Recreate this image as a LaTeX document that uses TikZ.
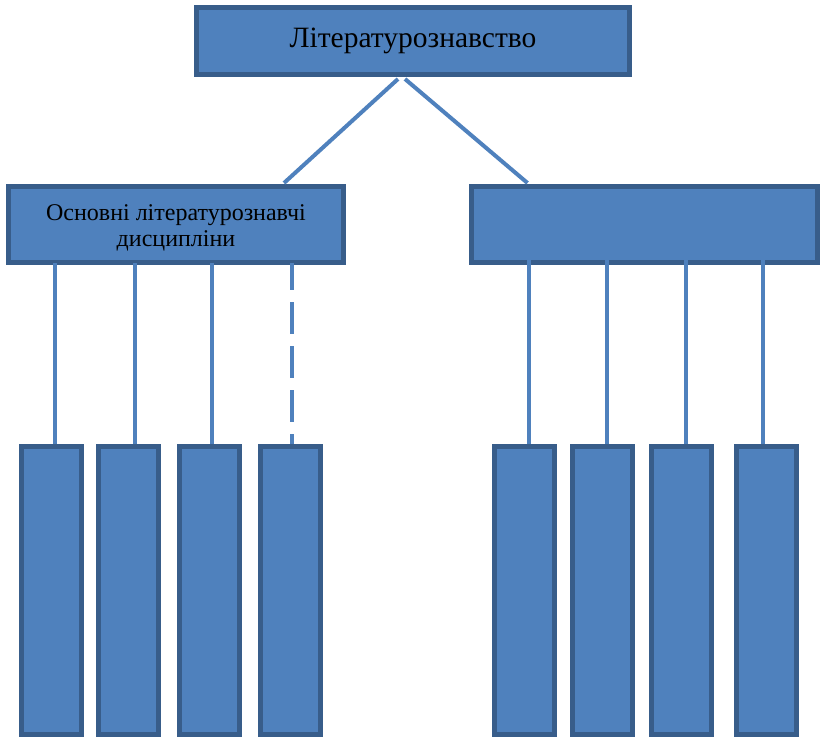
\documentclass[tikz,border=0pt]{standalone}
\usepackage{fontspec}
\setmainfont{Liberation Serif}
\usetikzlibrary{calc}

\definecolor{boxfill}{HTML}{4F81BD}
\definecolor{boxline}{HTML}{385D8A}

\begin{document}
\begin{tikzpicture}[x=1pt,y=-1pt,
  box/.style={draw=boxline,fill=boxfill,line width=5pt,inner sep=0pt,align=center},
  link/.style={draw=boxfill,line width=4pt}]

\def \ColW {60pt};
\def \ColH {288pt};

\useasboundingbox (0,0) rectangle (824,737);

\node [box,minimum width=433pt,minimum height=67pt,font=\fontsize{29.5}{32}\selectfont] (lit) at (413,41) {Літературознавство};

\node [box,minimum width=335pt,minimum height=76pt,font=\fontsize{24}{26}\selectfont] (osn) at (176,224.5) {};
\node [align=center,inner sep=0pt,font=\fontsize{24}{26}\selectfont] (osnt) at (176,228) {Основні літературознавчі\\дисципліни};
\node [box,minimum width=346pt,minimum height=76pt] (dop) at (644.5,224.5) {};

\node [box,minimum width=\ColW,minimum height=\ColH] (a1) at (51,590.5) {};
\node [box,minimum width=\ColW,minimum height=\ColH] (a2) at (128,590.5) {};
\node [box,minimum width=\ColW,minimum height=\ColH] (a3) at (209,590.5) {};
\node [box,minimum width=\ColW,minimum height=\ColH] (a4) at (290,590.5) {};

\node [box,minimum width=\ColW,minimum height=\ColH] (b1) at (524.5,590.5) {};
\node [box,minimum width=\ColW,minimum height=\ColH] (b2) at (602,590.5) {};
\node [box,minimum width=\ColW,minimum height=\ColH] (b3) at (681.5,590.5) {};
\node [box,minimum width=\ColW,minimum height=\ColH] (b4) at (766,590.5) {};

\draw [link] ($(lit.south)+(-15,2)$) -- ($(osn.north)+(108,-1)$);
\draw [link] ($(lit.south)+(-8,2)$) -- ($(dop.north)+(-117,-1)$);

\draw [link] ($(osn.south)+(-121,-2)$) -- ($(a1.north)+(4,0)$);
\draw [link] ($(osn.south)+(-41,-2)$) -- ($(a2.north)+(7,0)$);
\draw [link] ($(osn.south)+(36,-2)$) -- ($(a3.north)+(3,0)$);
\draw [link,dash pattern=on 32pt off 12pt,dash phase=5pt] ($(osn.south)+(116,-2)$) -- ($(a4.north)+(2,0)$);

\draw [link] ($(dop.south)+(-115.5,-7)$) -- ($(b1.north)+(4.5,0)$);
\draw [link] ($(dop.south)+(-37.5,-7)$) -- ($(b2.north)+(5,0)$);
\draw [link] ($(dop.south)+(41.5,-7)$) -- ($(b3.north)+(4.5,0)$);
\draw [link] ($(dop.south)+(118.5,-7)$) -- ($(b4.north)+(-3,0)$);

\end{tikzpicture}
\end{document}
